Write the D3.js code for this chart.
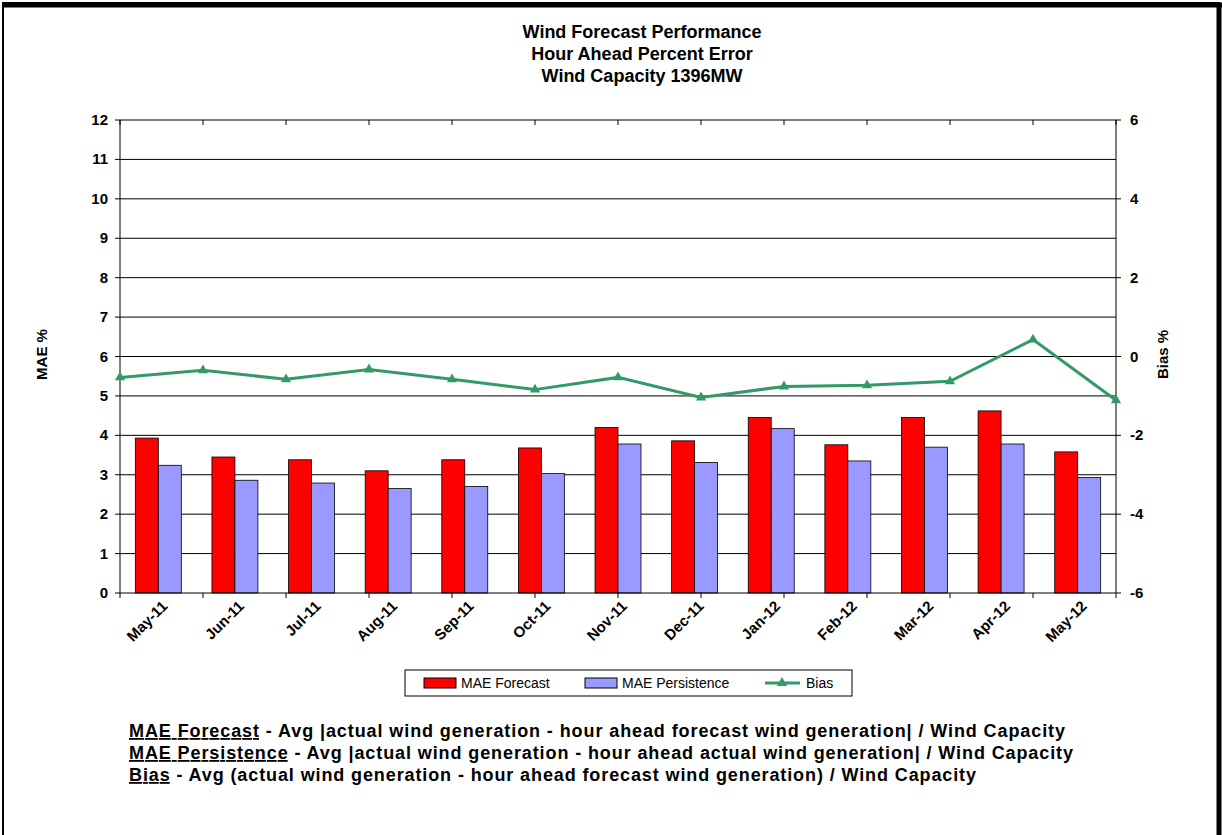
<!DOCTYPE html>
<html><head><meta charset="utf-8">
<script src="https://cdn.jsdelivr.net/npm/d3@7"></script>
<style>
body{margin:0;background:#fff;font-family:"Liberation Sans",Arial,sans-serif}
</style></head><body>
<script>
const months = ["May-11","Jun-11","Jul-11","Aug-11","Sep-11","Oct-11","Nov-11","Dec-11","Jan-12","Feb-12","Mar-12","Apr-12","May-12"];
const maeForecast = [3.93,3.45,3.38,3.10,3.38,3.68,4.20,3.86,4.45,3.76,4.45,4.62,3.58];
const maePersist = [3.24,2.86,2.79,2.65,2.70,3.03,3.78,3.31,4.17,3.35,3.70,3.78,2.93];
const bias = [-0.53,-0.35,-0.58,-0.33,-0.58,-0.84,-0.53,-1.04,-0.76,-0.73,-0.63,0.43,-1.11];
const leftTicks = d3.range(0,13);
const rightTicks = [-6,-4,-2,0,2,4,6];

const W=1222,H=835;
const svg=d3.select("body").append("svg").attr("width",W).attr("height",H);
// frame with shadow
svg.append("rect").attr("x",3).attr("y",3).attr("width",W-6).attr("height",H).attr("fill","none").attr("stroke","#000").attr("stroke-width",2);
svg.append("line").attr("x1",4).attr("x2",W).attr("y1",5).attr("y2",5).attr("stroke","#000").attr("stroke-width",5);
svg.append("line").attr("x1",W-3).attr("x2",W-3).attr("y1",3).attr("y2",H).attr("stroke","#000").attr("stroke-width",5);

const L=120,R=1116,T=120,B=593;
const y=d3.scaleLinear().domain([0,12]).range([B,T]);
const y2=d3.scaleLinear().domain([-6,6]).range([B,T]);
const xb=d3.scaleBand().domain(months).range([L,R]).paddingInner(0.4).paddingOuter(0.2);
const xp=d3.scalePoint().domain(months).range([L,R]);

// title
["Wind Forecast Performance","Hour Ahead  Percent Error","Wind Capacity  1396MW"].forEach((t,i)=>
  svg.append("text").attr("x",642).attr("y",38+i*22).attr("text-anchor","middle")
    .attr("font-size",18).attr("font-weight","bold").text(t));

// grid
svg.append("g").selectAll("line").data(leftTicks.slice(1)).join("line")
  .attr("x1",L).attr("x2",R).attr("y1",d=>y(d)).attr("y2",d=>y(d)).attr("stroke","#000").attr("stroke-width",1);

// bars
const bw=xb.bandwidth()/2;
svg.append("g").selectAll("rect").data(maeForecast).join("rect")
  .attr("x",(d,i)=>xb(months[i])).attr("y",d=>y(d)).attr("width",bw).attr("height",d=>B-y(d))
  .attr("fill","#ff0000").attr("stroke","#000").attr("stroke-width",0.8);
svg.append("g").selectAll("rect").data(maePersist).join("rect")
  .attr("x",(d,i)=>xb(months[i])+bw).attr("y",d=>y(d)).attr("width",bw).attr("height",d=>B-y(d))
  .attr("fill","#9999ff").attr("stroke","#000").attr("stroke-width",0.8);

// axes
const ax=svg.append("g").attr("font-size",15).attr("font-weight","bold");
ax.append("line").attr("x1",L).attr("x2",L).attr("y1",T).attr("y2",B).attr("stroke","#000");
ax.append("line").attr("x1",R).attr("x2",R).attr("y1",T).attr("y2",B).attr("stroke","#000");
ax.append("line").attr("x1",L).attr("x2",R).attr("y1",B).attr("y2",B).attr("stroke","#000");
leftTicks.forEach(t=>{
  ax.append("line").attr("x1",L-5).attr("x2",L).attr("y1",y(t)).attr("y2",y(t)).attr("stroke","#000");
  ax.append("text").attr("x",L-12).attr("y",y(t)+5).attr("text-anchor","end").text(t);
});
rightTicks.forEach(t=>{
  ax.append("line").attr("x1",R).attr("x2",R+5).attr("y1",y2(t)).attr("y2",y2(t)).attr("stroke","#000");
  ax.append("text").attr("x",R+14).attr("y",y2(t)+5).text(t);
});
months.forEach((m,i)=>{
  const x=xp(m);
  ax.append("line").attr("x1",x).attr("x2",x).attr("y1",T).attr("y2",T+5).attr("stroke","#000");
  ax.append("line").attr("x1",x).attr("x2",x).attr("y1",B).attr("y2",B+5).attr("stroke","#000");
  const cx=xb(m)+xb.bandwidth()/2+10;
  ax.append("text").attr("transform",`translate(${cx},${B+14}) rotate(-45)`).attr("text-anchor","end").attr("font-size",15).text(m);
});
ax.append("text").attr("transform",`translate(47,${(T+B)/2-2}) rotate(-90)`).attr("text-anchor","middle").attr("font-size",15).text("MAE %");
ax.append("text").attr("transform",`translate(1168,${(T+B)/2-2}) rotate(-90)`).attr("text-anchor","middle").attr("font-size",15).text("Bias %");

// bias line
const line=d3.line().x((d,i)=>xp(months[i])).y(d=>y2(d));
svg.append("path").datum(bias).attr("d",line).attr("fill","none").attr("stroke","#339966").attr("stroke-width",3);
svg.append("g").selectAll("path").data(bias).join("path")
  .attr("transform",(d,i)=>`translate(${xp(months[i])},${y2(d)})`)
  .attr("d",d3.symbol(d3.symbolTriangle,45)).attr("fill","#339966");

// legend
const lg=svg.append("g").attr("font-size",14);
lg.append("rect").attr("x",405).attr("y",670).attr("width",447).attr("height",26).attr("fill","#fff").attr("stroke","#000");
lg.append("rect").attr("x",424).attr("y",678).attr("width",32).attr("height",10).attr("fill","#ff0000").attr("stroke","#000");
lg.append("text").attr("x",461).attr("y",688).text("MAE Forecast");
lg.append("rect").attr("x",585).attr("y",678).attr("width",32).attr("height",10).attr("fill","#9999ff").attr("stroke","#000");
lg.append("text").attr("x",622).attr("y",688).text("MAE Persistence");
lg.append("line").attr("x1",765).attr("x2",800).attr("y1",683).attr("y2",683).attr("stroke","#339966").attr("stroke-width",3);
lg.append("path").attr("transform","translate(782,683)").attr("d",d3.symbol(d3.symbolTriangle,45)).attr("fill","#339966");
lg.append("text").attr("x",806).attr("y",688).text("Bias");

// notes
const notes=[["MAE Forecast"," - Avg |actual wind generation - hour ahead forecast wind generation| / Wind Capacity",936],
["MAE Persistence"," - Avg |actual wind generation - hour ahead actual wind generation| / Wind Capacity",944],
["Bias"," - Avg (actual wind generation - hour ahead forecast wind generation) / Wind Capacity",847]];
notes.forEach((n,i)=>{
  const t=svg.append("text").attr("x",129).attr("y",737+i*22).attr("font-size",18).attr("font-weight","bold")
    .attr("textLength",n[2]).attr("lengthAdjust","spacing");
  t.append("tspan").attr("text-decoration","underline").text(n[0]);
  t.append("tspan").text(n[1]);
});
</script>
</body></html>
